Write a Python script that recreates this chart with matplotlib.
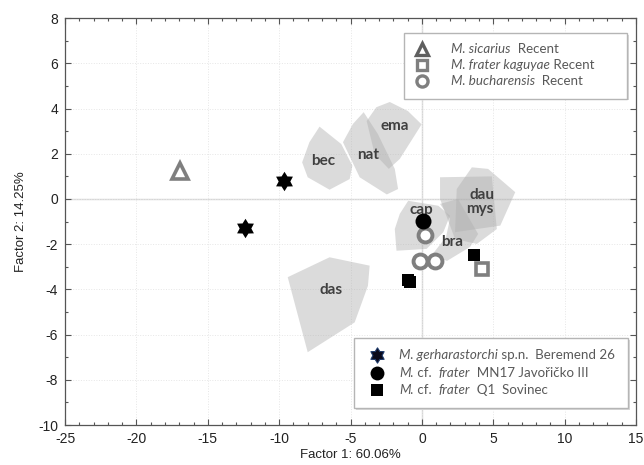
import numpy as np
import matplotlib.pyplot as plt
from matplotlib.patches import Polygon, Rectangle
from matplotlib.path import Path
from matplotlib.ticker import MultipleLocator

# ---- data ----
# convex hulls of the recent species (Factor 1, Factor 2)
hull_bec = [(-7.17, 3.2), (-5.65, 2.43), (-4.87, 1.47), (-5.06, 0.88), (-6.47, 0.41),
            (-8.0, 0.96), (-8.39, 1.62), (-7.88, 2.51)]
hull_nat = [(-4.08, 3.84), (-3.09, 2.88), (-1.9, 1.33), (-1.67, 0.44), (-2.46, 0.2),
            (-4.36, 0.96), (-5.53, 2.51), (-4.83, 3.32)]
hull_ema = [(-3.19, 4.06), (-2.25, 4.29), (-0.98, 3.89), (-0.02, 3.3), (-1.55, 1.77),
            (-2.32, 1.33), (-3.31, 1.99), (-3.87, 3.45)]
hull_cap = [(-0.96, -0.08), (1.15, -0.3), (1.97, -0.74), (1.5, -1.47), (0.33, -2.21),
            (-1.78, -2.29), (-1.9, -1.33), (-1.55, -0.66)]
hull_bra = [(1.27, -0.22), (2.53, 0.0), (3.94, -1.55), (3.38, -2.12), (1.76, -2.74),
            (0.7, -2.48), (1.69, -1.68), (1.97, -0.88)]
hull_mys = [(1.27, 0.96), (4.9, 1.0), (5.25, -1.33), (3.85, -1.99), (2.32, -1.77),
            (1.27, 0.0)]
hull_dau = [(3.5, 1.4), (4.64, 1.33), (6.54, 0.3), (5.49, -1.18), (2.32, -1.47),
            (2.44, 0.44)]
hull_das = [(-9.4, -3.46), (-6.47, -2.58), (-3.66, -2.95), (-3.78, -3.84), (-4.71, -5.46),
            (-8.0, -6.78)]
hulls = [hull_bec, hull_nat, hull_ema, hull_das, hull_cap, hull_mys, hull_dau, hull_bra]

hull_labels = ['bec', 'nat', 'ema', 'cap', 'bra', 'dau', 'mys', 'das']
label_x = [-6.94, -3.78, -1.9, -0.02, 2.09, 4.2, 4.08, -6.35]
label_y = [1.69, 1.95, 3.22, -0.47, -1.89, 0.18, -0.44, -4.03]

# recent species means
sicarius_x = [-16.95]
sicarius_y = [1.25]
kaguyae_x = [4.2]
kaguyae_y = [-3.1]
bucharensis_x = [0.21, -0.14, 0.91]
bucharensis_y = [-1.6, -2.75, -2.75]

# fossil samples
gerharastorchi_x = [-9.63, -12.38]
gerharastorchi_y = [0.78, -1.3]
javoricko_x = [0.05]
javoricko_y = [-0.98]
sovinec_x = [3.68, -0.95, -0.8]
sovinec_y = [-2.47, -3.6, -3.68]

legend_top = [
    [("M. sicarius", 'italic'), ("  Recent", 'normal')],
    [("M. frater kaguyae", 'italic'), (" Recent", 'normal')],
    [("M. bucharensis", 'italic'), ("  Recent", 'normal')],
]
legend_bottom = [
    [("M. gerharastorchi", 'italic'), (" sp.n.  Beremend 26", 'normal')],
    [("M.", 'italic'), (" cf.  ", 'normal'), ("frater", 'italic'), ("  MN17 Javořičko III", 'normal')],
    [("M.", 'italic'), (" cf.  ", 'normal'), ("frater", 'italic'), ("  Q1  Sovinec", 'normal')],
]

# ---- figure ----
plt.rcParams['font.family'] = ['Liberation Sans', 'DejaVu Sans']
plt.rcParams['axes.unicode_minus'] = False
fig = plt.figure(figsize=(6.44, 4.65), dpi=100)
ax = fig.add_axes([0.101, 0.086, 0.8866, 0.875])

ax.set_xlim(-25, 15)
ax.set_ylim(-10, 8)
ax.xaxis.set_major_locator(MultipleLocator(5))
ax.xaxis.set_minor_locator(MultipleLocator(1))
ax.yaxis.set_major_locator(MultipleLocator(2))
ax.yaxis.set_minor_locator(MultipleLocator(1))
ax.tick_params(which='both', direction='in', top=True, right=True, colors='#555555',
               labelcolor='#222222', labelsize=10, width=0.8)
ax.tick_params(which='major', length=4, pad=5)
ax.tick_params(which='minor', length=2.5)
for s in ax.spines.values():
    s.set_color('#555555')
    s.set_linewidth(0.9)
ax.grid(True, which='major', color='#e6e6e6', linestyle=':', linewidth=0.7, zorder=0)
ax.axhline(0, color='#d6d6d6', lw=1.0, zorder=1)
ax.axvline(0, color='#d6d6d6', lw=1.0, zorder=1)

ax.set_xlabel('Factor 1: 60.06%', fontsize=9.5, color='#222222', labelpad=2)
ax.set_ylabel('Factor 2: 14.25%', fontsize=9.5, color='#222222', labelpad=8)

for h in hulls:
    ax.add_patch(Polygon(h, closed=True, facecolor='#b0b0b0', alpha=0.45,
                         edgecolor='none', zorder=2))
for lab, lx, ly in zip(hull_labels, label_x, label_y):
    ax.text(lx, ly, lab, ha='center', va='center', fontsize=11, fontweight='bold',
            family=['Lato', 'DejaVu Sans'], color='#404040', zorder=3)

hexagram = Path.unit_regular_star(6, 0.6)
gray = '#7f7f7f'

ax.plot(sicarius_x, sicarius_y, ls='none', marker='^', ms=11, mfc='white', mec=gray, mew=2.6, zorder=4)
ax.plot(kaguyae_x, kaguyae_y, ls='none', marker='s', ms=9, mfc='white', mec=gray, mew=2.6, zorder=4)
ax.plot(bucharensis_x, bucharensis_y, ls='none', marker='o', ms=10, mfc='white', mec=gray, mew=2.8, zorder=4)
ax.plot(gerharastorchi_x, gerharastorchi_y, ls='none', marker=hexagram, ms=14, color='black', mew=0, zorder=5)
ax.plot(javoricko_x, javoricko_y, ls='none', marker='o', ms=11.5, color='black', mew=0, zorder=5)
ax.plot(sovinec_x, sovinec_y, ls='none', marker='s', ms=8, color='black', mew=0, zorder=5)

# ---- the two legend boxes, drawn by hand ----
def legend_box(x0, y0, x1, y1):
    ax.add_patch(Rectangle((x0 + 0.003, y0 - 0.004), x1 - x0, y1 - y0, transform=ax.transAxes,
                           facecolor='#d8d8d8', edgecolor='none', zorder=6))
    ax.add_patch(Rectangle((x0, y0), x1 - x0, y1 - y0, transform=ax.transAxes,
                           facecolor='white', edgecolor='#b5b5b5', lw=1.0, zorder=6))

def legend_row(x, y, segs):
    prev = None
    for txt, style in segs:
        kw = dict(fontsize=9.6, color='#595959', family=['Lato', 'DejaVu Sans'], style=style, zorder=7)
        if prev is None:
            prev = ax.text(x, y, txt, transform=ax.transAxes, ha='left', va='center', **kw)
        else:
            prev = ax.annotate(txt, xy=(1, 0), xycoords=prev, ha='left', va='bottom', **kw)

legend_box(0.594, 0.802, 0.984, 0.963)
top_rows = [0.924, 0.886, 0.846]
ax.plot([0.626], [top_rows[0]], transform=ax.transAxes, marker='^', ms=9, mfc='white', mec='#5f5f5f', mew=2.4, zorder=7, clip_on=False)
ax.plot([0.626], [top_rows[1]], transform=ax.transAxes, marker='s', ms=7, mfc='white', mec=gray, mew=2.4, zorder=7, clip_on=False)
ax.plot([0.626], [top_rows[2]], transform=ax.transAxes, marker='o', ms=8, mfc='white', mec=gray, mew=2.4, zorder=7, clip_on=False)
for yy, segs in zip(top_rows, legend_top):
    legend_row(0.676, yy, segs)

legend_box(0.506, 0.041, 0.986, 0.2135)
bot_rows = [0.172, 0.129, 0.085]
ax.plot([0.547], [bot_rows[0]], transform=ax.transAxes, marker=hexagram, ms=11, color='#0a0a1a', mec='#1f3a6a', mew=0.8, zorder=7, clip_on=False)
ax.plot([0.547], [bot_rows[1]], transform=ax.transAxes, marker='o', ms=10, color='black', mew=0, zorder=7, clip_on=False)
ax.plot([0.547], [bot_rows[2]], transform=ax.transAxes, marker='s', ms=9, color='black', mew=0, zorder=7, clip_on=False)
for yy, segs in zip(bot_rows, legend_bottom):
    legend_row(0.585, yy, segs)

fig.savefig('out.png', dpi=100)
